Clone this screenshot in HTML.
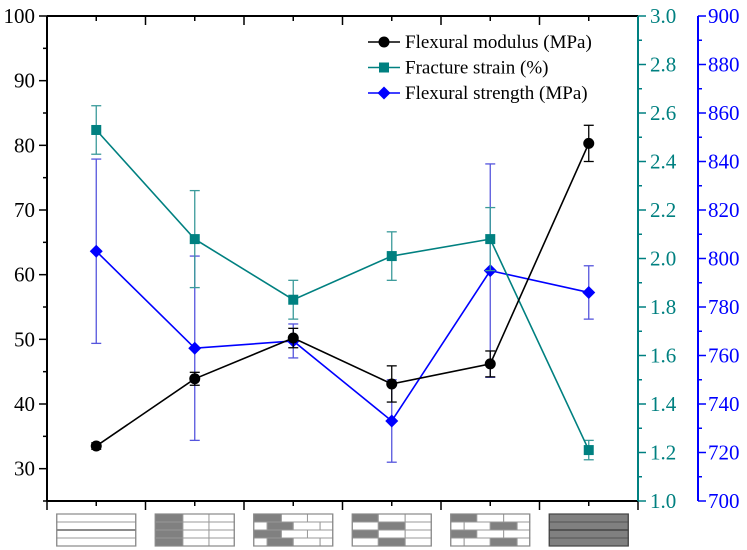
<!DOCTYPE html>
<html><head><meta charset="utf-8"><style>
html,body{margin:0;padding:0;background:#fff;font-family:'Liberation Serif','DejaVu Serif',serif;}
svg{display:block;font-family:'Liberation Serif','DejaVu Serif',serif;}
text{font-family:'Liberation Serif','DejaVu Serif',serif !important;}
</style></head><body>
<svg id="c" width="747" height="550"></svg>
<script>
const categories=["p1","p2","p3","p4","p5","p6"];
const modulus=[33.5,43.9,50.2,43.1,46.2,80.3];
const modulusErr=[0.5,1.0,1.5,2.8,2.0,2.8];
const strain=[2.53,2.08,1.83,2.01,2.08,1.21];
const strainErr=[0.10,0.20,0.08,0.10,0.13,0.04];
const strength=[803,763,766,733,795,786];
const strengthErr=[38,38,7,17,44,11];
const leftTicks=[30,40,50,60,70,80,90,100];
const strainTicks=[1.0,1.2,1.4,1.6,1.8,2.0,2.2,2.4,2.6,2.8,3.0];
const strengthTicks=[700,720,740,760,780,800,820,840,860,880,900];
const legendLabels=["Flexural modulus (MPa)","Fracture strain (%)","Flexural strength (MPa)"];

const NS="http://www.w3.org/2000/svg";
const svg=document.getElementById('c');
const L=47,R=638,T=16,B=501;
const xs=i=>L+(R-L)/6*(i+0.5);
const yL=v=>B-(v-25)/75*(B-T);
const yS=v=>B-(v-1)/2*(B-T);
const yB=v=>B-(v-700)/200*(B-T);
function el(tag,a,p){const e=document.createElementNS(NS,tag);for(const k in a)e.setAttribute(k,a[k]);(p||svg).appendChild(e);return e;}
function line(x1,y1,x2,y2,c,w,p){return el('line',{x1,y1,x2,y2,stroke:c,'stroke-width':w||1},p);}
function text(x,y,s,c,anchor,size,p){const t=el('text',{x,y,fill:c,'text-anchor':anchor||'start','font-size':size||19,style:"font-family:'Liberation Serif','DejaVu Serif',serif"},p);t.textContent=s;return t;}

const ax=el('g',{});


line(L,T,R,T,'#000',2,ax);
line(L,B,R,B,'#000',2,ax);
line(L,T,L,B,'#000',2,ax);
for(let i=0;i<=12;i++){const x=L+(R-L)/12*i;const len=i%2?5:9;line(x,B,x,B+len,'#000',1.5,ax);line(x,T,x,T+len,'#000',1.5,ax);}
for(let v=25;v<=100;v+=5){const y=yL(v);line(L,y,L-(v%10?4:8),y,'#000',1.5,ax);}
leftTicks.forEach(v=>{const t=text(L-12,yL(v)+7,String(v),'#000','end',21,ax);});
const TE='#008080';
line(R,T,R,B,TE,2,ax);
for(let k=0;k<=20;k++){const v=1+k*0.1;const y=yS(v);line(R,y,R+(k%2?4:8),y,TE,1.5,ax);}
strainTicks.forEach(v=>{const t=text(R+12,yS(v)+7,v.toFixed(1),TE,'start',21,ax);});
const BL='#0000ff',BX=698;
line(BX,T,BX,B,BL,2,ax);
for(let v=700;v<=900;v+=10){const y=yB(v);line(BX,y,BX+(v%20?4:8),y,BL,1.5,ax);}
strengthTicks.forEach(v=>{const t=text(BX+10,yB(v)+7,String(v),BL,'start',21,ax);});

function series(vals,errs,yf,color,errColor,marker,name){
  const g=el('g',{});
  
  
  vals.forEach((v,i)=>{const x=xs(i);const y1=yf(v+errs[i]),y2=yf(v-errs[i]);
    line(x,y1,x,y2,errColor,1.3,g);line(x-5,y1,x+5,y1,errColor,1.3,g);line(x-5,y2,x+5,y2,errColor,1.3,g);});
  el('polyline',{points:vals.map((v,i)=>xs(i)+','+yf(v)).join(' '),fill:'none',stroke:color,'stroke-width':1.6},g);
  vals.forEach((v,i)=>drawMarker(marker,xs(i),yf(v),color,g));
}
function drawMarker(m,x,y,c,g){
  if(m==='circle')el('circle',{cx:x,cy:y,r:5.5,fill:c},g);
  else if(m==='square')el('rect',{x:x-5,y:y-5,width:10,height:10,fill:c},g);
  else el('polygon',{points:`${x},${y-6.5} ${x+6.5},${y} ${x},${y+6.5} ${x-6.5},${y}`,fill:c},g);
}
series(strength,strengthErr,yB,BL,'#5555dd','diamond','strength-series');
series(strain,strainErr,yS,TE,'#3a9a9a','square','strain-series');
series(modulus,modulusErr,yL,'#000','#000','circle','modulus-series');

const lg=el('g',{});


const lc=['#000',TE,BL],lm=['circle','square','diamond'];
legendLabels.forEach((s,i)=>{const y=42+i*25.5;line(368,y,400,y,lc[i],1.6,lg);drawMarker(lm[i],384,y,lc[i],lg);text(405,y+6,s,'#000','start',19,lg);});

const G='#808080',W='#fff',LN='#999';
const rowsDef=[
 [[[0,1,W]],[[0,1,W]],[[0,1,W]],[[0,1,W]]],
 [[[0,.35,G],[.35,.68,W],[.68,1,W]],[[0,.35,G],[.35,.68,W],[.68,1,W]],[[0,.35,G],[.35,.68,W],[.68,1,W]],[[0,.35,G],[.35,.68,W],[.68,1,W]]],
 [[[0,.35,G],[.35,.68,W],[.68,1,W]],[[0,.17,W],[.17,.5,G],[.5,.84,W],[.84,1,W]],[[0,.35,G],[.35,.68,W],[.68,1,W]],[[0,.17,W],[.17,.5,G],[.5,.84,W],[.84,1,W]]],
 [[[0,.33,G],[.33,.67,W],[.67,1,W]],[[0,.33,W],[.33,.67,G],[.67,1,W]],[[0,.33,G],[.33,.67,W],[.67,1,W]],[[0,.33,W],[.33,.67,G],[.67,1,W]]],
 [[[0,.33,G],[.33,.67,W],[.67,1,W]],[[0,.17,W],[.17,.5,W],[.5,.84,G],[.84,1,W]],[[0,.33,G],[.33,.67,W],[.67,1,W]],[[0,.17,W],[.17,.5,W],[.5,.84,G],[.84,1,W]]],
 [[[0,1,G]],[[0,1,G]],[[0,1,G]],[[0,1,G]]]
];
rowsDef.forEach((rows,i)=>{
  const g=el('g',{});
  
  
  const w=79,h=32,x0=xs(i)-w/2,y0=514,rh=h/4;
  rows.forEach((cells,r)=>cells.forEach(c=>{el('rect',{x:x0+c[0]*w,y:y0+r*rh,width:(c[1]-c[0])*w,height:rh,fill:c[2],stroke:i===5?'#555':LN,'stroke-width':1},g);}));
  if(i===0||i===5)line(x0,y0+h/2,x0+w,y0+h/2,i===5?'#444':'#666',1.5,g);
  el('rect',{x:x0,y:y0,width:w,height:h,fill:'none',stroke:i===5?'#444':'#888','stroke-width':1.2},g);
});
</script>
</body></html>
